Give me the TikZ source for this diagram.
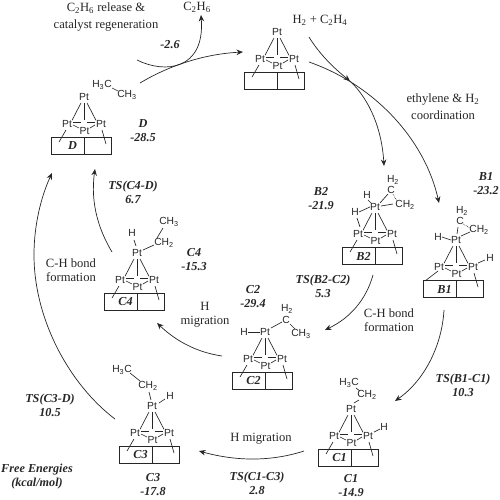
\documentclass[tikz,border=0pt]{standalone}
\usepackage{fontspec}
\setmainfont{Liberation Serif}
\setsansfont{Liberation Sans}
\usetikzlibrary{arrows.meta}
\newcommand{\sm}[1]{\textsubscript{#1}}
\tikzset{
  x=1pt,y=-1pt,
  bondline/.style={line width=0.65pt,black!85},
  curve/.style={line width=0.7pt,black!85,-{Stealth[length=6.5pt,width=5.5pt]}},
  atom/.style={font=\sffamily\fontsize{10.3}{10}\selectfont,inner sep=0pt,text=black!85},
  note/.style={font=\rmfamily\fontsize{12.6}{14}\selectfont,inner sep=0pt,text=black!85,align=center},
  wide/.style={note,font=\rmfamily\fontsize{12.6}{17}\selectfont},
  val/.style={font=\rmfamily\bfseries\itshape\fontsize{12.2}{14}\selectfont,inner sep=0pt,text=black!85,align=center},
  cluster/.pic={
    \node[atom] (top) at (0,0) {Pt};
    \node[atom] (l) at (-17,27) {Pt};
    \node[atom] (r) at (17,27) {Pt};
    \node[atom] (b) at (0.5,34) {Pt};
    \draw[bondline] (-33,40) rectangle (27.5,57);
    \draw[bondline] (0,40) -- (0,57);
    \draw[bondline] (-3,6) -- (l.north east);
    \draw[bondline] (3,6) -- (r.north west);
    \draw[bondline] (0,6) -- (0,23);
    \draw[bondline] (-11,25) -- (-3,25) (3,25) -- (11,25);
    \draw[bondline] (-11,28) -- (-5,31) (11,28) -- (6,31);
    \draw[bondline] (18,33) -- (22,47);
    \node[val] (lab) at (-11.5,49) {#1};
  },
  legleft/.pic={\draw[bondline] (-18,33) -- (-25,45);},
}
\begin{document}
\begin{tikzpicture}
\useasboundingbox (0,0) rectangle (500,499);
% clusters
\pic (D) at (84,97) {cluster={D}}; \pic at (84,97) {legleft};
\pic (A) at (277,32) {cluster={}}; \pic at (277,32) {legleft};
\pic (BB) at (375,207) {cluster={B2}}; \pic at (375,207) {legleft};
\pic (BA) at (456,240) {cluster={B1}};
\pic (CD) at (137,253) {cluster={C4}}; \pic at (137,253) {legleft};
\pic (CB) at (265,332) {cluster={C2}}; \pic at (265,332) {legleft};
\pic (CC) at (152,406) {cluster={C3}}; \pic at (152,406) {legleft};
\pic (CA) at (351,409) {cluster={C1}}; \pic at (351,409) {legleft};
% D
\node[atom] (d1) at (102,85) {H\sm{3}C};
\node[atom] (d2) at (127,95) {CH\sm{3}};
\draw[bondline] (112,88) -- (118,91);
% B2
\node[atom] (b21) at (367,195) {H};
\node[atom] (b22) at (355,212) {H};
\node[atom] (b23) at (391,190) {C};
\node[atom] (b24) at (393,180) {H\sm{2}};
\node[atom] (b25) at (405,205) {CH\sm{2}};
\draw[bondline] (b22.east) -- (BBtop.west);
\draw[bondline] (357,218) -- (360,227);
\draw[bondline] (368,200) -- (371,203);
\draw[bondline] (380,203) -- (388,194);
\draw[bondline] (381,206) -- (393,204);
\draw[bondline,densely dotted] (393,194) -- (397,201);
% B1
\node[atom] (b11) at (438,237) {H};
\node[atom] (b12) at (460,221) {C};
\node[atom] (b13) at (462,211) {H\sm{2}};
\node[atom] (b14) at (479,230) {CH\sm{2}};
\node[atom] (b15) at (490,258) {H};
\draw[bondline] (b11.east) -- (BAtop.west);
\draw[bondline] (457,234) -- (458,227);
\draw[bondline] (461,236) -- (470,232);
\draw[bondline,densely dotted] (463,224) -- (470,228);
\draw[bondline] (478,263) -- (485,260);
\draw[bondline] (438,271) -- (425,281);
% C4
\node[atom] (c41) at (132,233) {H};
\node[atom] (c42) at (164,243) {CH\sm{2}};
\node[atom] (c43) at (169,222) {CH\sm{3}};
\draw[bondline] (134,240) -- (136,246);
\draw[bondline] (143,250) -- (154,245);
\draw[bondline] (157,238) -- (163,228);
% C2
\node[atom] (c21) at (244,332) {H};
\node[atom] (c22) at (287,309) {H\sm{2}};
\node[atom] (c23) at (286,320) {C};
\node[atom] (c24) at (301,334) {CH\sm{3}};
\draw[bondline] (c21.east) -- (CBtop.west);
\draw[bondline] (271,328) -- (282,322);
\draw[bondline] (290,324) -- (295,329);
% C3
\node[atom] (c31) at (122,370) {H\sm{3}C};
\node[atom] (c32) at (148,386) {CH\sm{2}};
\node[atom] (c33) at (170,396) {H};
\draw[bondline] (130,373) -- (140,381);
\draw[bondline] (149,392) -- (151,400);
\draw[bondline] (159,403) -- (165,399);
% C1
\node[atom] (c11) at (349,383) {H\sm{3}C};
\node[atom] (c12) at (367,395) {CH\sm{2}};
\node[atom] (c13) at (384,427) {H};
\draw[bondline] (356,388) -- (360,391);
\draw[bondline] (359,400) -- (354,403);
\draw[bondline] (374,432) -- (380,429);
% curved arrows
\node[wide] (rel) at (106,17) {C\sm{2}H\sm{6} release \&\\catalyst regeneration};
\node[note] (eth) at (197,7) {C\sm{2}H\sm{6}};
\node[note] (reac) at (320,20) {H\sm{2} + C\sm{2}H\sm{4}};
\coordinate (t1) at (140,83);
\coordinate (h1) at (243,52);
\coordinate (t2) at (137,60);
\coordinate (t3) at (309,37);
\coordinate (m3) at (350,81);
\coordinate (t4) at (309,62);
\draw[curve] (t1) .. controls (170,65) and (205,54) .. (h1);
\draw[curve] (t2) .. controls (165,74) and (205,70) .. (201,15);
\draw[curve] (t3) .. controls (320,55) and (335,69) .. (m3);
\draw[curve] (m3) .. controls (370,100) and (382,130) .. (384,166);
\draw[curve] (t4) .. controls (375,85) and (425,140) .. (439,203);
\draw[curve] (444,310) .. controls (442,345) and (425,380) .. (395,401);
\draw[curve] (373,275) .. controls (366,300) and (350,318) .. (325,330);
\draw[curve] (222,356) .. controls (195,352) and (175,340) .. (157,323);
\draw[curve] (304,451) .. controls (270,462) and (235,461) .. (199,451);
\draw[curve] (112,252) .. controls (100,232) and (90,205) .. (95,169);
\draw[curve] (115,419) .. controls (70,385) and (34,320) .. (34,255) .. controls (34,225) and (41,197) .. (52,173);
% texts
\node[val] at (170,45) {-2.6};
\node[wide] at (443,107) {ethylene \& H\sm{2}\\coordination};
\node[val] at (143,130.5) {D\\-28.5};
\node[val] at (486,184) {B1\\-23.2};
\node[val] at (321,199) {B2\\-21.9};
\node[val] at (323,286.5) {TS(B2-C2)\\5.3};
\node[note] at (389,320) {C-H bond\\formation};
\node[val] at (253,297) {C2\\-29.4};
\node[note] at (205,315) {H\\migration};
\node[val] at (194,260) {C4\\-15.3};
\node[val] at (133,192) {TS(C4-D)\\6.7};
\node[note] at (71,270) {C-H bond\\formation};
\node[val] at (50,405.5) {TS(C3-D)\\10.5};
\node[val] at (37,477) {Free Energies\\(kcal/mol)};
\node[val] at (153,485) {C3\\-17.8};
\node[val] at (257,483) {TS(C1-C3)\\2.8};
\node[note] at (261,439) {H migration};
\node[val] at (351,486) {C1\\-14.9};
\node[val] at (463,385.5) {TS(B1-C1)\\10.3};
\end{tikzpicture}
\end{document}
